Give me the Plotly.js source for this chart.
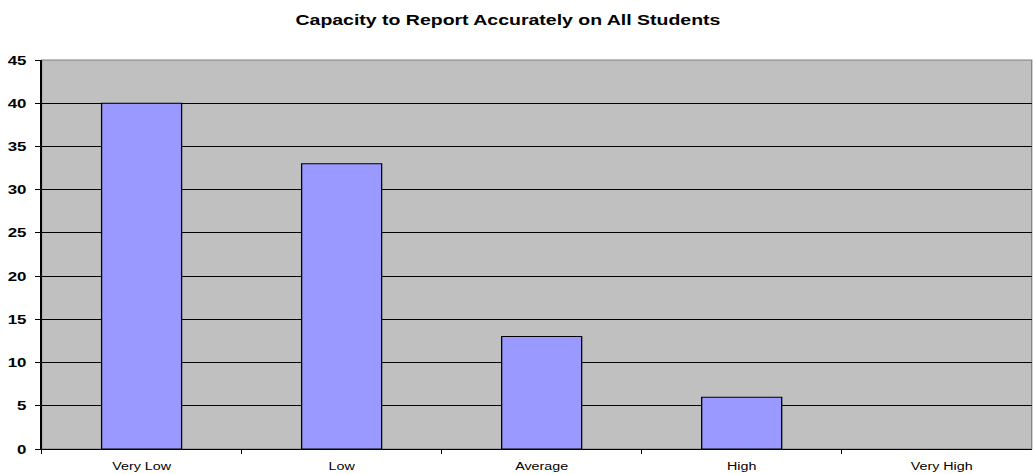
<!DOCTYPE html>
<html>
<head>
<meta charset="utf-8">
<script src="https://cdn.plot.ly/plotly-3.0.1.min.js"></script>
<style>
  html, body { margin: 0; padding: 0; background: #ffffff; overflow: hidden; }
  /* the chart is laid out narrower and stretched horizontally to fill the page */
  #chart { width: 795px; height: 474px; transform: scaleX(1.2994); transform-origin: 0 0; }
</style>
</head>
<body>
<div id="chart"></div>
<script>
// Survey responses by rating level
const categories = ["Very Low", "Low", "Average", "High", "Very High"];
const counts = [40, 33, 13, 6, 0];
const yTicks = [0, 5, 10, 15, 20, 25, 30, 35, 40, 45];

const FONT = "Liberation Sans, Arial, sans-serif";

const trace = {
  type: "bar",
  x: categories,
  y: counts,
  marker: {
    color: "#9999ff",
    // no outline on an empty bar
    line: { color: "#000000", width: counts.map(v => (v > 0 ? 1 : 0)) }
  },
  hoverinfo: "x+y"
};

const layout = {
  width: 795,
  height: 474,
  margin: { l: 32.3, r: 0.8, t: 60, b: 25, pad: 0 },
  paper_bgcolor: "#ffffff",
  plot_bgcolor: "#c0c0c0",
  bargap: 0.6,
  showlegend: false,
  title: {
    text: "<b>Capacity to Report Accurately on All Students</b>",
    font: { family: FONT, size: 15, color: "#000000" },
    xref: "paper", x: 0.471, xanchor: "center",
    yref: "container", y: 0.959, yanchor: "middle"
  },
  xaxis: {
    type: "category",
    range: [-0.5, 4.45],
    tickson: "boundaries",
    ticks: "outside",
    ticklen: 4,
    tickcolor: "#000000",
    ticklabelstandoff: 7,
    showline: true,
    linecolor: "#000000",
    linewidth: 1,
    showgrid: false,
    tickfont: { family: FONT, size: 11, color: "#000000" },
    fixedrange: true
  },
  yaxis: {
    range: [0, 45],
    tickvals: yTicks,
    ticktext: yTicks.map(v => "<b>" + v + "</b>"),
    ticks: "outside",
    ticklen: 4,
    tickcolor: "#000000",
    ticklabelstandoff: 4,
    showline: true,
    linecolor: "#000000",
    linewidth: 1,
    showgrid: true,
    gridcolor: "#000000",
    gridwidth: 1,
    zeroline: false,
    tickfont: { family: FONT, size: 13, color: "#000000" },
    fixedrange: true
  },
  shapes: [{
    type: "rect", xref: "paper", yref: "paper",
    x0: 0, x1: 1, y0: 0, y1: 1,
    line: { color: "#808080", width: 1 },
    layer: "below"
  }]
};

Plotly.newPlot("chart", [trace], layout, { displayModeBar: false, staticPlot: true });
</script>
</body>
</html>
